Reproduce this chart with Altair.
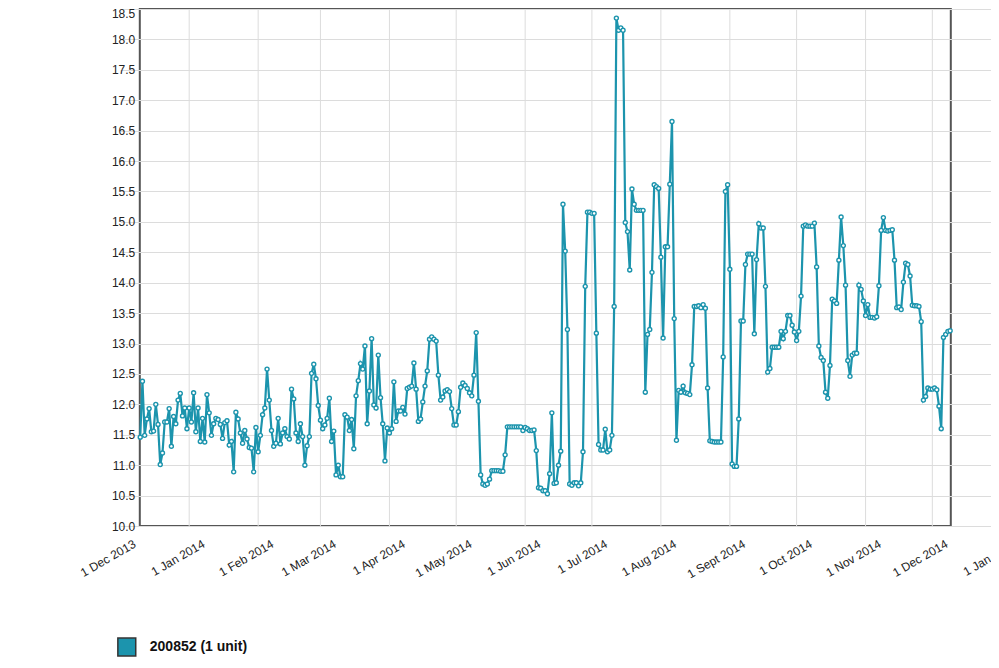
import altair as alt
import pandas as pd

teal = "#1c94ad"
series_name = "200852 (1 unit)"
first_day = "2013-12-10"

dec_2013 = [11.46, 12.38, 11.49, 11.76, 11.93, 11.55, 11.56, 12.0, 11.67, 11.01, 11.2,
            11.71, 11.71, 11.93, 11.31, 11.8, 11.68, 12.07, 12.18, 11.81, 11.94, 11.6]
jan_2014 = [11.94, 11.71, 12.19, 11.55, 11.94, 11.39, 11.77, 11.38, 12.16, 11.86, 11.49,
            11.68, 11.77, 11.75, 11.67, 11.44, 11.7, 11.73, 11.33, 11.39, 10.89, 11.87,
            11.76, 11.53, 11.36, 11.57, 11.43, 11.29, 11.28, 10.89, 11.62]
feb_2014 = [11.22, 11.49, 11.83, 11.94, 12.58, 12.07, 11.57, 11.31, 11.36, 11.77, 11.35,
            11.53, 11.6, 11.47, 11.43, 12.25, 12.09, 11.53, 11.39, 11.68, 11.47, 11.0,
            11.32, 11.47, 12.51, 12.66, 12.42, 11.98]
mar_2014 = [11.74, 11.6, 11.66, 11.77, 12.1, 11.39, 11.56, 10.84, 11.0, 10.81, 10.81,
            11.83, 11.79, 11.57, 11.75, 11.27, 12.14, 12.39, 12.67, 12.58, 12.96, 11.68,
            12.22, 13.08, 11.99, 11.94, 12.81, 12.11, 11.68, 11.07, 11.61]
apr_2014 = [11.53, 11.6, 12.37, 11.72, 11.89, 11.89, 11.95, 11.84, 12.26, 12.28, 12.3,
            12.68, 12.25, 11.72, 11.76, 12.04, 12.3, 12.55, 13.07, 13.11, 13.07, 13.04,
            12.48, 12.07, 12.12, 12.22, 12.24, 12.21, 11.93, 11.66]
may_2014 = [11.66, 11.88, 12.28, 12.35, 12.31, 12.26, 12.19, 12.14, 12.48, 13.18, 12.05,
            10.84, 10.69, 10.67, 10.69, 10.77, 10.91, 10.91, 10.91, 10.91, 10.9, 10.9,
            11.17, 11.63, 11.63, 11.63, 11.63, 11.63, 11.63, 11.63, 11.57]
jun_2014 = [11.62, 11.6, 11.57, 11.57, 11.58, 11.24, 10.63, 10.62, 10.58, 10.58, 10.53,
            10.86, 11.86, 10.7, 10.71, 11.0, 11.23, 15.29, 14.52, 13.23, 10.69, 10.67,
            10.71, 10.71, 10.66, 10.71, 11.22, 13.94, 15.16, 15.16]
jul_2014 = [15.14, 15.14, 13.17, 11.34, 11.25, 11.25, 11.59, 11.22, 11.25, 11.49, 13.61,
            18.35, 18.15, 18.19, 18.15, 14.99, 14.84, 14.21, 15.54, 15.29, 15.19, 15.19,
            15.19, 15.19, 12.2, 13.15, 13.23, 14.17, 15.61, 15.58, 15.55]
aug_2014 = [14.42, 13.09, 14.59, 14.59, 15.62, 16.65, 13.41, 11.41, 12.23, 12.2, 12.3,
            12.19, 12.18, 12.16, 12.65, 13.61, 13.61, 13.62, 13.59, 13.64, 13.58, 12.27,
            11.4, 11.39, 11.38, 11.38, 11.38, 11.38, 12.78, 15.5, 15.61]
sep_2014 = [14.22, 11.02, 10.98, 10.98, 11.76, 13.37, 13.37, 14.3, 14.47, 14.47, 14.47,
            13.16, 14.38, 14.97, 14.9, 14.9, 13.94, 12.53, 12.59, 12.94, 12.94, 12.94,
            12.94, 13.2, 13.08, 13.2, 13.46, 13.46, 13.3, 13.19]
oct_2014 = [13.05, 13.2, 13.78, 14.93, 14.95, 14.93, 14.93, 14.93, 14.98, 14.26, 12.96,
            12.77, 12.72, 12.2, 12.1, 12.64, 13.73, 13.7, 13.66, 14.37, 15.08, 14.61,
            13.96, 12.72, 12.46, 12.81, 12.84, 12.84, 13.96, 13.89, 13.7]
nov_2014 = [13.46, 13.64, 13.43, 13.43, 13.42, 13.44, 13.95, 14.86, 15.07, 14.86, 14.85,
            14.86, 14.87, 14.37, 13.59, 13.6, 13.56, 14.01, 14.32, 14.3, 14.11, 13.63,
            13.62, 13.62, 13.61, 13.36, 12.07, 12.13, 12.27, 12.25]
dec_2014 = [12.25, 12.27, 12.24, 11.97, 11.6, 13.1, 13.15, 13.2, 13.21]

months = [dec_2013, jan_2014, feb_2014, mar_2014, apr_2014, may_2014, jun_2014,
          jul_2014, aug_2014, sep_2014, oct_2014, nov_2014, dec_2014]

tick_months = [(2013, 12), (2014, 1), (2014, 2), (2014, 3), (2014, 4), (2014, 5),
               (2014, 6), (2014, 7), (2014, 8), (2014, 9), (2014, 10), (2014, 11),
               (2014, 12), (2015, 1)]
grid_months = ["2014-01-01T00:00:00", "2014-02-01T00:00:00", "2014-03-01T00:00:00",
               "2014-04-01T00:00:00", "2014-05-01T00:00:00", "2014-06-01T00:00:00",
               "2014-07-01T00:00:00", "2014-08-01T00:00:00", "2014-09-01T00:00:00",
               "2014-10-01T00:00:00", "2014-11-01T00:00:00", "2014-12-01T00:00:00"]
y_ticks = [10.0, 10.5, 11.0, 11.5, 12.0, 12.5, 13.0, 13.5, 14.0, 14.5, 15.0,
           15.5, 16.0, 16.5, 17.0, 17.5, 18.0, 18.5]

values = [v for m in months for v in m]
dates = pd.date_range(first_day, periods=len(values), freq="D").strftime("%Y-%m-%dT%H:%M:%S")
df = pd.DataFrame({"date": list(dates), "value": values, "series": series_name})
grid_df = pd.DataFrame({"date": grid_months})

FONT = "Liberation Sans"
label_expr = ("timeFormat(datum.value, '%-d ') + (month(datum.value) == 8 ? 'Sept' : "
              "timeFormat(datum.value, '%b')) + timeFormat(datum.value, ' %Y')")

x_enc = alt.X(
    "date:T",
    scale=alt.Scale(
        domain=[alt.DateTime(year=2013, month=12, date=1),
                alt.DateTime(year=2015, month=1, date=1)],
        range=[-19.6, 861.5],
    ),
    axis=alt.Axis(
        values=[alt.DateTime(year=y, month=m, date=1) for y, m in tick_months],
        grid=False, domain=False, ticks=False,
        labelAngle=330, labelAlign="right", labelBaseline="alphabetic",
        labelOffset=16, labelPadding=20, labelOverlap=False, labelFlush=False,
        labelBound=False, labelExpr=label_expr, labelFont=FONT, labelFontSize=12,
        labelColor="#222", title=None,
    ),
)
y_enc = alt.Y(
    "value:Q",
    scale=alt.Scale(domain=[10, 18.5], nice=False, zero=False),
    axis=alt.Axis(
        values=y_ticks, format=".1f", grid=True, gridColor="#dcdcdc", gridWidth=1,
        domain=False, ticks=False, labelPadding=5, labelFont=FONT, labelFontSize=12,
        labelColor="#222", labelFlush=False, title=None,
        labelOffset={"condition": {"test": "datum.value == 18.5", "value": 4}, "value": 0},
    ),
)

grid = alt.Chart(grid_df).mark_rule(color="#dcdcdc", strokeWidth=1).encode(x=x_enc)

line = alt.Chart(df).mark_line(color=teal, strokeWidth=2.2).encode(x=x_enc, y=y_enc)

points = alt.Chart(df).mark_point(
    filled=True, fill="white", stroke=teal, strokeWidth=1.4, size=16, opacity=1
).encode(x=x_enc, y=y_enc)

legend_key = alt.Chart(df).transform_filter("false").mark_square(opacity=1, size=10).encode(
    x=x_enc, y=y_enc,
    color=alt.Color(
        "series:N",
        scale=alt.Scale(domain=[series_name], range=[teal]),
        legend=alt.Legend(
            title=None, orient="none", legendX=-23, legendY=628, padding=0,
            symbolType="square", symbolSize=320, symbolStrokeColor="#333",
            symbolStrokeWidth=1.5, symbolOpacity=1, labelFont=FONT, labelFontSize=14,
            labelFontWeight="bold", labelColor="#111", labelOffset=13, labelLimit=400,
        ),
    ),
)

chart = alt.layer(grid, line, points, legend_key).properties(
    width=811, height=517,
    autosize=alt.AutoSizeParams(type="none"),
    padding={"left": 131.8, "top": 1, "right": 40.2, "bottom": 134},
    background="white",
).configure_view(stroke="#555", strokeWidth=2)

chart.save("out.html", embed_options={"renderer": "svg", "actions": False})
